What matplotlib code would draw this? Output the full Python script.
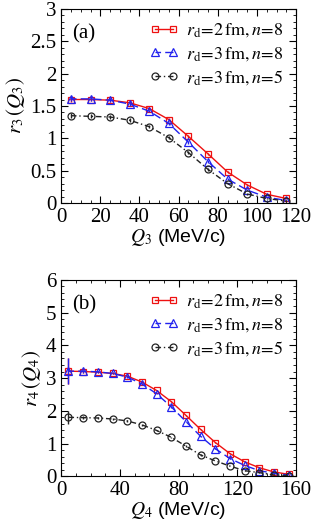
import numpy as np
import matplotlib
matplotlib.use("Agg")
import matplotlib.pyplot as plt
from matplotlib.ticker import MultipleLocator

plt.rcParams['font.family'] = ['Liberation Serif', 'DejaVu Serif']
plt.rcParams['mathtext.fontset'] = 'stix'

# panel (a): r3(Q3)
q3 = [5, 15, 25, 35, 45, 55, 65, 75, 85, 95, 105, 115]
r3_rd2_n8 = [1.60, 1.60, 1.59, 1.55, 1.46, 1.29, 1.03, 0.76, 0.48, 0.28, 0.135, 0.07]
r3_rd3_n8 = [1.61, 1.61, 1.59, 1.53, 1.42, 1.23, 0.94, 0.64, 0.37, 0.20, 0.09, 0.04]
r3_rd3_n5 = [1.35, 1.34, 1.33, 1.28, 1.18, 1.01, 0.78, 0.52, 0.30, 0.14, 0.07, 0.03]
r3_err = [0.04, 0.03, 0.03, 0.03, 0.02, 0.02, 0.02, 0.02, 0.01, 0.01, 0.01, 0.01]

# panel (b): r4(Q4)
q4 = [5, 15, 25, 35, 45, 55, 65, 75, 85, 95, 105, 115, 125, 135, 145, 155]
r4_rd2_n8 = [3.21, 3.20, 3.18, 3.14, 3.06, 2.88, 2.62, 2.28, 1.86, 1.43, 1.03, 0.69, 0.44, 0.26, 0.13, 0.06]
r4_rd3_n8 = [3.21, 3.21, 3.19, 3.14, 3.03, 2.82, 2.52, 2.12, 1.67, 1.22, 0.84, 0.54, 0.33, 0.17, 0.09, 0.04]
r4_rd3_n5 = [1.80, 1.79, 1.78, 1.75, 1.69, 1.57, 1.40, 1.19, 0.92, 0.65, 0.47, 0.31, 0.17, 0.11, 0.04, 0.02]
r4_err8 = [0.40, 0.05, 0.04, 0.03, 0.03, 0.02, 0.02, 0.02, 0.02, 0.02, 0.02, 0.02, 0.01, 0.01, 0.01, 0.01]
r4_err5 = [0.20, 0.04, 0.03, 0.03, 0.02, 0.02, 0.02, 0.02, 0.02, 0.02, 0.01, 0.01, 0.01, 0.01, 0.01, 0.01]

labels = [r'$r_{\rm d}\!=\!2\,{\rm fm},n\!=\!8$',
          r'$r_{\rm d}\!=\!3\,{\rm fm},n\!=\!8$',
          r'$r_{\rm d}\!=\!3\,{\rm fm},n\!=\!5$']

fig = plt.figure(figsize=(3.12, 5.28), dpi=100)
ax1 = fig.add_axes([0.196, 0.6155, 0.753, 0.3675])
ax2 = fig.add_axes([0.196, 0.098, 0.753, 0.372])


def draw(ax, x, y1, y2, y3, e1, e2):
    styles = [
        (y1, e1, '#ee1111', '-', 's', 5),
        (y2, e1, '#2222ee', (2, (6, 3)), '^', 6),
        (y3, e2, '#222222', (0, (4, 2, 1, 2)), 'o', 5),
    ]
    for (y, e, c, ls, m, ms), lab in zip(styles, labels):
        ax.errorbar(x, y, yerr=e, color=c, ls='none', lw=1.0)
        ax.plot(x, y, color=c, ls=ls, lw=1.0, marker=m, ms=ms,
                mfc='none', mew=0.9, label=lab)
    ax.tick_params(which='both', direction='in', top=True, right=True, labelsize=15)
    ax.tick_params(which='major', length=5)
    ax.tick_params(which='minor', length=2.5)
    ax.legend(loc='upper right', frameon=False, fontsize=13, numpoints=2,
              handlelength=1.6, handletextpad=0.4, labelspacing=0.3,
              borderaxespad=0.3)


draw(ax1, q3, r3_rd2_n8, r3_rd3_n8, r3_rd3_n5, r3_err, r3_err)
ax1.set_xlim(0, 120)
ax1.set_ylim(0, 3)
ax1.xaxis.set_major_locator(MultipleLocator(20))
ax1.xaxis.set_minor_locator(MultipleLocator(5))
ax1.yaxis.set_ticks([0, 0.5, 1, 1.5, 2, 2.5, 3])
ax1.set_yticklabels(['0', '0.5', '1', '1.5', '2', '2.5', '3'])
ax1.yaxis.set_minor_locator(MultipleLocator(0.1))
ax1.set_xlabel(r'$Q_3$ (MeV/c)', fontsize=14, labelpad=0, family=['Liberation Sans'])
ax1.set_ylabel(r'$r_3\,(Q_3)$', fontsize=15, labelpad=2)
ax1.text(0.047, 0.92, '(a)', transform=ax1.transAxes, fontsize=15, va='top')

draw(ax2, q4, r4_rd2_n8, r4_rd3_n8, r4_rd3_n5, r4_err8, r4_err5)
ax2.set_xlim(0, 160)
ax2.set_ylim(0, 6)
ax2.xaxis.set_major_locator(MultipleLocator(40))
ax2.xaxis.set_minor_locator(MultipleLocator(10))
ax2.yaxis.set_major_locator(MultipleLocator(1))
ax2.yaxis.set_minor_locator(MultipleLocator(0.2))
ax2.set_xlabel(r'$Q_4$ (MeV/c)', fontsize=14, labelpad=0, family=['Liberation Sans'])
ax2.set_ylabel(r'$r_4\,(Q_4)$', fontsize=15, labelpad=2)
ax2.text(0.047, 0.92, '(b)', transform=ax2.transAxes, fontsize=15, va='top')

fig.savefig('out.png', dpi=100)
